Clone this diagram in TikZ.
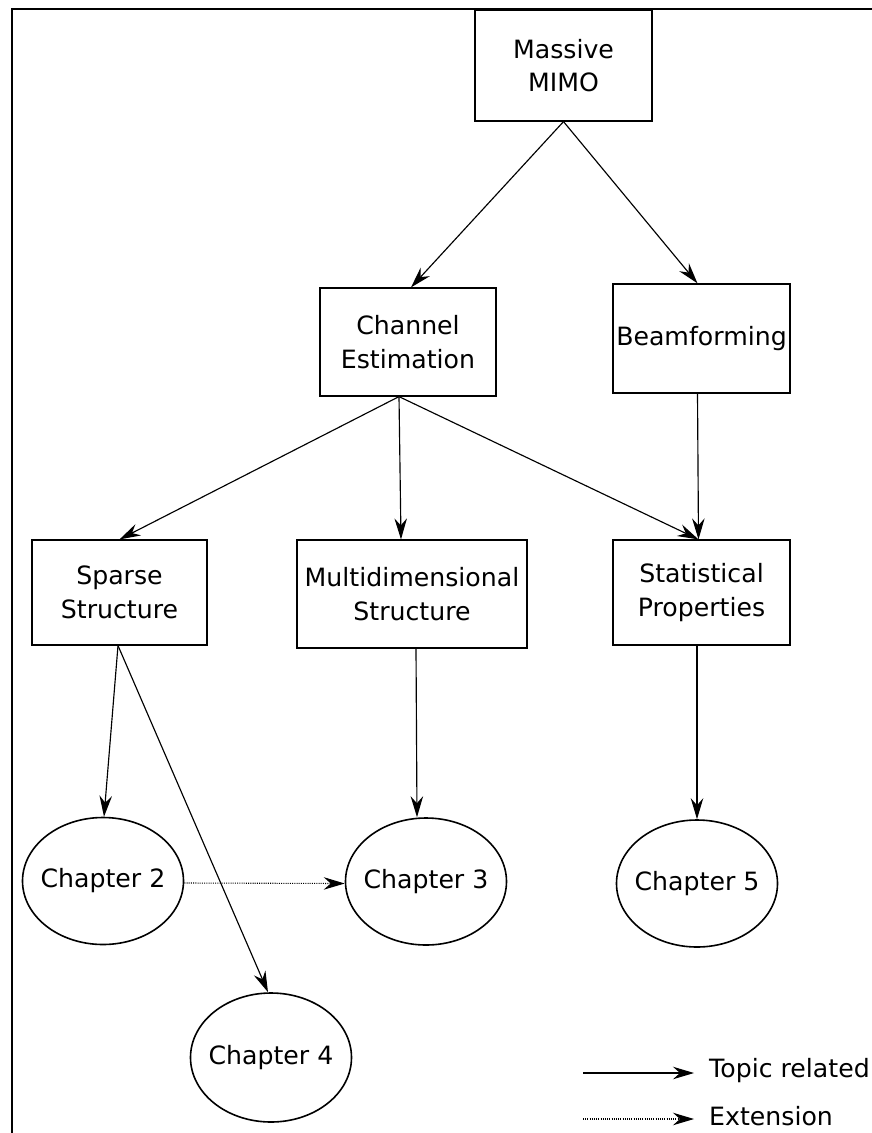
\documentclass[tikz,border=0pt]{standalone}
\usepackage{fontspec}
\setmainfont{DejaVu Sans}
\usetikzlibrary{arrows.meta,shapes.geometric}
\begin{document}
\begin{tikzpicture}[x=1pt,y=-1pt,
  every node/.style={font=\fontsize{25.2}{33.5}\selectfont},
  boxnode/.style={draw,line width=1.2pt,rectangle,align=center,inner sep=0pt},
  chapnode/.style={draw,line width=1.6pt,ellipse,inner xsep=-30pt,inner ysep=0pt,minimum width=161pt,minimum height=127pt},
  topic/.style={line width=1.15pt,-{Stealth[length=21pt,width=12.5pt,inset=7pt]}},
  extarrow/.style={line width=1.1pt,dash pattern=on 1pt off 1.2pt,-{Stealth[length=21pt,width=12.5pt,inset=7pt]}},
  legtext/.style={anchor=west,inner sep=0pt}]
\useasboundingbox (0,0) rectangle (871,1133);
\draw[line width=2.6pt] (12,1140) -- (12,9) -- (880,9);
\node[boxnode,minimum width=177pt,minimum height=111pt] (mimo) at (563.5,65.5) {Massive\\MIMO};
\node[boxnode,minimum width=176pt,minimum height=108pt] (chan) at (408,342) {Channel\\Estimation};
\node[boxnode,minimum width=177pt,minimum height=109pt] (beam) at (701.5,338.5) {Beamforming};
\node[boxnode,minimum width=175pt,minimum height=105pt] (sparse) at (119.5,592.5) {Sparse\\Structure};
\node[boxnode,minimum width=230pt,minimum height=108pt] (multi) at (412,594) {Multidimensional\\Structure};
\node[boxnode,minimum width=177pt,minimum height=105pt] (stat) at (701.5,592.5) {Statistical\\Properties};
\node[chapnode] (ch2) at (103,881) {Chapter 2};
\node[chapnode] (ch3) at (426,881.5) {Chapter 3};
\node[chapnode] (ch5) at (697,883.5) {Chapter 5};
\node[chapnode,minimum height=129pt] (ch4) at (271,1057.5) {Chapter 4};
\draw[topic] (mimo.south) -- ([xshift=3pt]chan.north);
\draw[topic] (mimo.south) -- ([xshift=-4pt]beam.north);
\draw[topic] ([xshift=-9pt]chan.south) -- (sparse.north);
\draw[topic] ([xshift=-9pt]chan.south) -- ([xshift=-11pt]multi.north);
\draw[topic] ([xshift=-9pt]chan.south) -- ([xshift=-3pt]stat.north);
\draw[topic] ([xshift=-4pt]beam.south) -- ([xshift=-3pt]stat.north);
\draw[topic] ([xshift=-1.5pt]sparse.south) -- ([xshift=1pt]ch2.north);
\draw[topic] ([xshift=-1.5pt]sparse.south) -- ([xshift=-3pt]ch4.north);
\draw[topic] ([xshift=4pt]multi.south) -- ([xshift=-9pt]ch3.north);
\draw[topic] ([xshift=-4.5pt]stat.south) -- (ch5.north);
\draw[extarrow] ([yshift=-2pt]ch2.east) -- ([yshift=-2pt]ch3.west);
\coordinate (l1a) at (583,1073);
\coordinate (l1b) at (694,1073);
\coordinate (l2a) at (583,1119);
\coordinate (l2b) at (694,1119);
\draw[topic] (l1a) -- (l1b);
\draw[extarrow] (l2a) -- (l2b);
\node[legtext] (t1) at (709,1071) {Topic related};
\node[legtext] (t2) at (709,1116) {Extension};
\end{tikzpicture}
\end{document}
